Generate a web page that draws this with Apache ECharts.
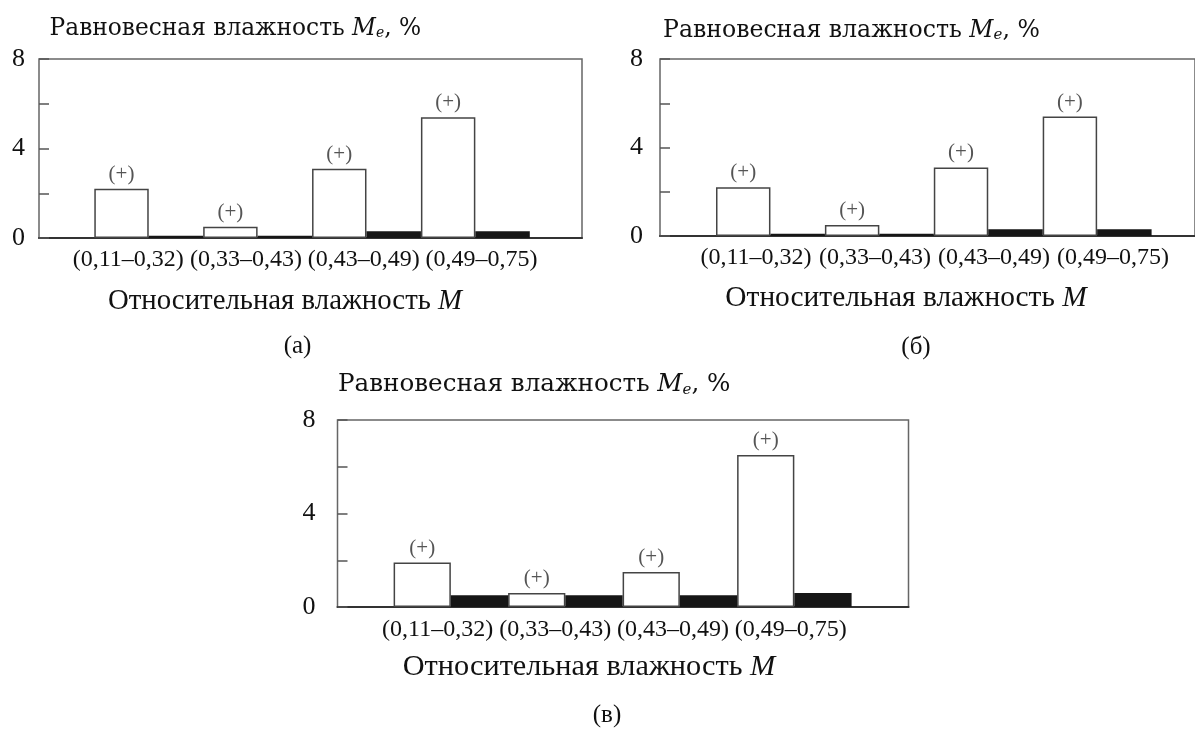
<!DOCTYPE html>
<html>
<head>
<meta charset="utf-8">
<script src="https://cdn.jsdelivr.net/npm/echarts@6/dist/echarts.min.js"></script>
<style>
html, body { margin: 0; background: #fff; }
#chart { width: 1195px; height: 729px; }
</style>
</head>
<body>
<div id="chart"></div>
<script>
// относительная влажность M (категории)
const categories = ['(0,11–0,32)', '(0,33–0,43)', '(0,43–0,49)', '(0,49–0,75)'];
// равновесная влажность Me, % — белые и чёрные столбики
const whiteA = [2.2, 0.5, 3.1, 5.4];
const blackA = [0.1, 0.1, 0.3, 0.3];
const whiteB = [2.2, 0.5, 3.1, 5.4];
const blackB = [0.1, 0.1, 0.3, 0.3];
const whiteC = [1.9, 0.6, 1.5, 6.5];
const blackC = [0.5, 0.5, 0.5, 0.6];
const signs = ['(+)', '(+)', '(+)', '(+)'];
const yShown = [0, 4, 8];
const panelTags = ['(а)', '(б)', '(в)'];

const serif = '"Liberation Serif", "Times New Roman", serif';
const wide = '"DejaVu Serif", serif';

// рамка, область столбиков и область подписей для каждой панели
const panels = [
    { white: whiteA, black: blackA,
      frame: { left: 39, top: 59, width: 543, height: 179 },
      bars: { left: 94.3, width: 435.5 }, labels: { left: 69.4, width: 471 },
      tickMargin: 14, labelMargin: 10,
      yTitle: [49.6, 29], yTitleSize: 23.3,
      xTitle: [285, 301], xTitleSize: 28.8, tag: [297.5, 346] },
    { white: whiteB, black: blackB,
      frame: { left: 660, top: 59, width: 560, height: 177 },
      bars: { left: 716, width: 435.6 }, labels: { left: 696.5, width: 476 },
      tickMargin: 17, labelMargin: 10,
      yTitle: [663, 31], yTitleSize: 23.6,
      xTitle: [906, 298], xTitleSize: 29.4, tag: [916, 347] },
    { white: whiteC, black: blackC,
      frame: { left: 337.5, top: 420, width: 571, height: 187 },
      bars: { left: 393.6, width: 458 }, labels: { left: 378.8, width: 470.8 },
      tickMargin: 22, labelMargin: 11,
      yTitle: [338, 385], yTitleSize: 24.6,
      xTitle: [589, 667], xTitleSize: 30.3, tag: [607, 715] }
];

const grid = [], xAxis = [], yAxis = [], series = [], graphic = [];

panels.forEach(function (p, i) {
    const f = p.frame;
    const g0 = grid.length;
    // рамка с осью Y
    grid.push({ left: f.left, top: f.top, width: f.width, height: f.height,
        show: true, borderColor: '#666', borderWidth: 1.5 });
    // столбики
    grid.push({ left: p.bars.left, top: f.top, width: p.bars.width, height: f.height });
    // подписи категорий
    grid.push({ left: p.labels.left, top: f.top, width: p.labels.width, height: f.height });

    xAxis.push({ gridIndex: g0, type: 'category', data: categories,
        axisLine: { lineStyle: { color: '#333', width: 2 } },
        axisTick: { show: false }, axisLabel: { show: false } });
    xAxis.push({ gridIndex: g0 + 1, type: 'category', data: categories, show: false });
    xAxis.push({ gridIndex: g0 + 2, type: 'category', data: categories,
        axisLine: { show: false }, axisTick: { show: false },
        axisLabel: { interval: 0, margin: p.labelMargin, color: '#111',
            fontFamily: serif, fontSize: 24 } });

    yAxis.push({ gridIndex: g0, type: 'value', min: 0, max: 8, interval: 2,
        axisLine: { show: false }, splitLine: { show: false },
        axisTick: { show: true, inside: true, length: 10, lineStyle: { color: '#555', width: 1.5 } },
        axisLabel: { margin: p.tickMargin, color: '#111', fontFamily: serif, fontSize: 26,
            formatter: function (v) { return yShown.indexOf(v) >= 0 ? String(v) : ''; } } });
    yAxis.push({ gridIndex: g0 + 1, type: 'value', min: 0, max: 8, show: false });
    yAxis.push({ gridIndex: g0 + 2, type: 'value', min: 0, max: 8, show: false });

    series.push({ type: 'bar', xAxisIndex: g0 + 1, yAxisIndex: g0 + 1, data: p.white,
        barGap: '0%', barCategoryGap: '0%',
        itemStyle: { color: '#fff', borderColor: '#444', borderWidth: 1.5 },
        label: { show: true, position: 'top', distance: 4, color: '#555',
            fontFamily: serif, fontSize: 21,
            formatter: function (d) { return signs[d.dataIndex]; } } });
    series.push({ type: 'bar', xAxisIndex: g0 + 1, yAxisIndex: g0 + 1, data: p.black,
        barGap: '0%', barCategoryGap: '0%',
        itemStyle: { color: '#161616' } });

    const ys = p.yTitleSize;
    graphic.push({ type: 'text', x: p.yTitle[0], y: p.yTitle[1], style: {
        text: '{t|Равновесная влажность }{m|M}{e|e}{t|, %}',
        align: 'left', verticalAlign: 'middle', fill: '#111',
        rich: {
            t: { fontFamily: wide, fontSize: ys, fill: '#111' },
            m: { fontFamily: wide, fontSize: ys, fontStyle: 'italic', fill: '#111' },
            e: { fontFamily: wide, fontSize: Math.round(ys * 0.62), fontStyle: 'italic', fill: '#111',
                 verticalAlign: 'bottom' }
        } } });
    const xs = p.xTitleSize;
    graphic.push({ type: 'text', x: p.xTitle[0], y: p.xTitle[1], style: {
        text: '{t|Относительная влажность }{m|M}',
        align: 'center', verticalAlign: 'middle', fill: '#111',
        rich: {
            t: { fontFamily: serif, fontSize: xs, fill: '#111' },
            m: { fontFamily: serif, fontSize: xs, fontStyle: 'italic', fill: '#111' }
        } } });
    graphic.push({ type: 'text', x: p.tag[0], y: p.tag[1], style: {
        text: panelTags[i], font: '25px ' + serif, fill: '#111',
        align: 'center', verticalAlign: 'middle' } });
});

const chart = echarts.init(document.getElementById('chart'));
chart.setOption({
    backgroundColor: '#fff',
    animation: false,
    grid: grid,
    xAxis: xAxis,
    yAxis: yAxis,
    series: series,
    graphic: graphic
});
window.addEventListener('resize', chart.resize);
</script>
</body>
</html>
